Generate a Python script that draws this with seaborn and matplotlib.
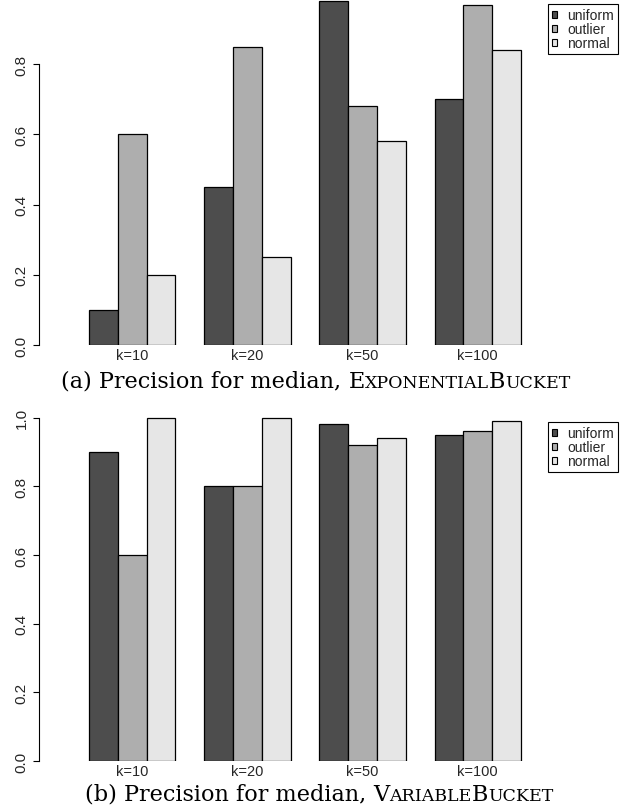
import matplotlib
matplotlib.use("Agg")
import matplotlib.pyplot as plt
from matplotlib.patches import Patch
import seaborn as sns
import pandas as pd

# ---- data ----
k_labels = ["k=10", "k=20", "k=50", "k=100"]
series = ["uniform", "outlier", "normal"]
colors = ["#4D4D4D", "#AEAEAE", "#E6E6E6"]

exp_uniform = [0.10, 0.45, 0.98, 0.70]
exp_outlier = [0.60, 0.85, 0.68, 0.97]
exp_normal = [0.20, 0.25, 0.58, 0.84]

var_uniform = [0.90, 0.80, 0.98, 0.95]
var_outlier = [0.60, 0.80, 0.92, 0.96]
var_normal = [1.00, 1.00, 0.94, 0.99]

yticks_a = [0.0, 0.2, 0.4, 0.6, 0.8]
yticks_b = [0.0, 0.2, 0.4, 0.6, 0.8, 1.0]


def long_df(u, o, n):
    rows = []
    for name, vals in zip(series, [u, o, n]):
        for k, v in zip(k_labels, vals):
            rows.append({"k": k, "dist": name, "value": v})
    return pd.DataFrame(rows)


sns.set_theme(style="white")
plt.rcParams["font.family"] = ["Liberation Sans", "DejaVu Sans"]

W, H = 630, 812
fig = plt.figure(figsize=(W / 100, H / 100), dpi=100)

# pixel geometry
grp_left_px = 89.0
px_per_unit = 115.2
axis_px = 39.0


def px_to_x(px):
    return (px - grp_left_px) / px_per_unit - 0.375


xl = px_to_x(axis_px)
xr = px_to_x(W)
ax_left = axis_px / W
ax_w = (W - axis_px) / W

FS = 10.5
FS_Y = 11
FS_LEG = 10


def make_panel(rect, df, ylim_top, yticks, spine_top, legend_top_px):
    ax = fig.add_axes(rect)
    sns.barplot(data=df, x="k", y="value", hue="dist", hue_order=series,
                order=k_labels, palette=colors, width=0.75, gap=0,
                edgecolor="black", linewidth=0.9, ax=ax, legend=False,
                errorbar=None, saturation=1)
    ax.set_xlim(xl, xr)
    ax.set_ylim(0, ylim_top)
    for s in ["top", "right", "bottom"]:
        ax.spines[s].set_visible(False)
    ax.spines["left"].set_bounds(0, spine_top)
    ax.spines["left"].set_color("black")
    ax.spines["left"].set_linewidth(0.8)
    ax.set_yticks(yticks)
    ax.set_yticklabels([f"{t:.1f}" for t in yticks])
    ax.tick_params(axis="y", direction="out", length=4.3, width=0.8,
                   color="black", labelsize=FS_Y, pad=3, left=True)
    for lab in ax.get_yticklabels():
        lab.set_rotation(90)
        lab.set_verticalalignment("center")
    ax.tick_params(axis="x", length=0, pad=2, labelsize=FS)
    ax.set_xlabel("")
    ax.set_ylabel("")
    ax.patch.set_alpha(0)
    handles = [Patch(facecolor=c, edgecolor="black", linewidth=0.8) for c in colors]
    leg = ax.legend(handles, series, loc="upper right",
                    bbox_to_anchor=(618 / W, 1 - legend_top_px / H),
                    bbox_transform=fig.transFigure, borderaxespad=0,
                    fontsize=FS_LEG, frameon=True, fancybox=False,
                    edgecolor="black", framealpha=1,
                    handlelength=0.4, handleheight=0.4, handletextpad=0.7,
                    labelspacing=0.0, borderpad=0.3)
    leg.get_frame().set_linewidth(0.8)
    return ax


# top panel: 0 at y=346px, 351 px per unit
ax_a = make_panel([ax_left, (H - 346) / H, ax_w, 346 / H],
                  long_df(exp_uniform, exp_outlier, exp_normal),
                  346 / 351.0, yticks_a, 0.8, 5)
# bottom panel: 0 at y=762px, 343.4 px per unit
top_b = 762 - 1.04 * 343.4
ax_b = make_panel([ax_left, (H - 762) / H, ax_w, (762 - top_b) / H],
                  long_df(var_uniform, var_outlier, var_normal),
                  1.04, yticks_b, 1.0, 423)

# ---- captions with small caps ----
renderer = fig.canvas.get_renderer()
SERIF = ["DejaVu Serif"]


def caption(parts, center_px, y_px, base):
    texts = []
    for s, rel in parts:
        t = fig.text(0, 0, s, fontsize=base * rel, family=SERIF,
                     color="black", va="baseline", ha="left")
        texts.append(t)
    widths = [t.get_window_extent(renderer).width for t in texts]
    total = sum(widths)
    x = center_px - total / 2
    for t, w in zip(texts, widths):
        t.set_position((x / W, 1 - y_px / H))
        x += w
    return total


def parts_for(label, words):
    out = [(label, 1.0)]
    for w in words:
        out.append((w[0], 1.0))
        out.append((w[1:].upper(), 0.78))
    return out


pa = parts_for("(a) Precision for median, ", ["Exponential", "Bucket"])
pb = parts_for("(b) Precision for median, ", ["Variable", "Bucket"])

# fit caption size so that caption (a) spans about 512 px
probe = [fig.text(0, 0, s, fontsize=10 * r, family=SERIF) for s, r in pa]
wsum = sum(t.get_window_extent(renderer).width for t in probe)
for t in probe:
    t.remove()
base = 10 * 512 / wsum

caption(pa, 316, 388, base)
caption(pb, 319, 801, base)

fig.savefig("out.png", dpi=100)
